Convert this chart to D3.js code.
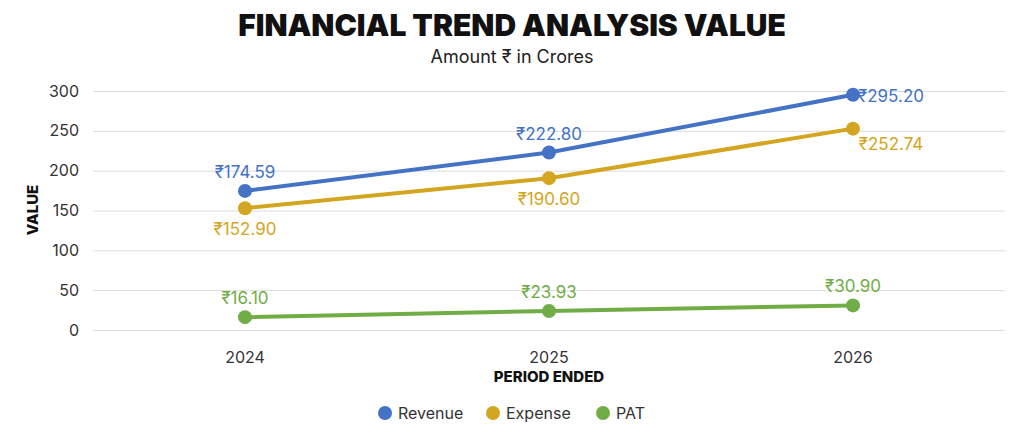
<!DOCTYPE html><html><head><meta charset="utf-8"><script src="https://cdn.jsdelivr.net/npm/d3@7"></script>
<style>body{margin:0;background:#fff}text{font-family:Inter,"Open Sans",sans-serif}</style></head><body><svg id="c" width="1024" height="434"></svg>
<script>
const categories=["2024","2025","2026"];
const revenue=[174.59,222.80,295.20];
const expense=[152.90,190.60,252.74];
const pat=[16.10,23.93,30.90];
const yTicks=[0,50,100,150,200,250,300];
const series=[{name:"Revenue",values:revenue,color:"#4472C4",above:true},{name:"Expense",values:expense,color:"#D4A520",above:false},{name:"PAT",values:pat,color:"#70AD47",above:true}];
const svg=d3.select("#c");
const x=d3.scaleBand().domain(categories).range([93,1005]);
const y=d3.scaleLinear().domain([0,300]).range([330,91]);
svg.append("text").attr("x",512).attr("y",36).attr("text-anchor","middle").attr("font-size",30).attr("font-weight",900).attr("fill","#111").text("FINANCIAL TREND ANALYSIS VALUE");
svg.append("text").attr("x",512).attr("y",63).attr("text-anchor","middle").attr("font-size",18).attr("fill","#222").text("Amount ₹ in Crores");
const ya=svg.append("g").attr("transform","translate(93,0)").call(d3.axisLeft(y).tickValues(yTicks).tickSize(-912).tickPadding(14));
ya.select(".domain").remove();
ya.selectAll("line").attr("stroke","#dcdcdc");
ya.selectAll("text").attr("font-size",16).attr("fill","#333");
const xa=svg.append("g").attr("transform","translate(0,330)").call(d3.axisBottom(x).tickSize(0).tickPadding(22));
xa.select(".domain").remove();
xa.selectAll("text").attr("font-size",16).attr("fill","#333");
svg.append("text").attr("transform","translate(38,210) rotate(-90)").attr("text-anchor","middle").attr("font-size",15).attr("font-weight",800).attr("fill","#111").text("VALUE");
svg.append("text").attr("x",549).attr("y",382).attr("text-anchor","middle").attr("font-size",15).attr("font-weight",800).attr("fill","#111").text("PERIOD ENDED");
const cx=d=>x(d)+x.bandwidth()/2;
series.forEach(s=>{
 const g=svg.append("g");
 g.append("path").datum(s.values).attr("fill","none").attr("stroke",s.color).attr("stroke-width",4)
  .attr("d",d3.line().x((d,i)=>cx(categories[i])).y(d=>y(d)));
 g.selectAll("circle").data(s.values).join("circle").attr("cx",(d,i)=>cx(categories[i])).attr("cy",d=>y(d)).attr("r",7).attr("fill",s.color);
 g.selectAll("text").data(s.values).join("text")
  .attr("x",(d,i)=>cx(categories[i])+(i==2?(s.name=="PAT"?0:38):0))
  .attr("y",(d,i)=>i==2&&s.name!="PAT"?y(d)+(s.above?7:21):y(d)+(s.above?-13:27))
  .attr("text-anchor","middle").attr("font-size",17).attr("fill",s.color).text(d=>"₹"+d.toFixed(2));
});
const lg=svg.append("g");
const lx=[385,493,603];
series.forEach((s,i)=>{
 lg.append("circle").attr("cx",lx[i]).attr("cy",413).attr("r",7).attr("fill",s.color);
 lg.append("text").attr("x",lx[i]+13).attr("y",419).attr("font-size",16).attr("fill","#333").text(s.name);
});
</script></body></html>
